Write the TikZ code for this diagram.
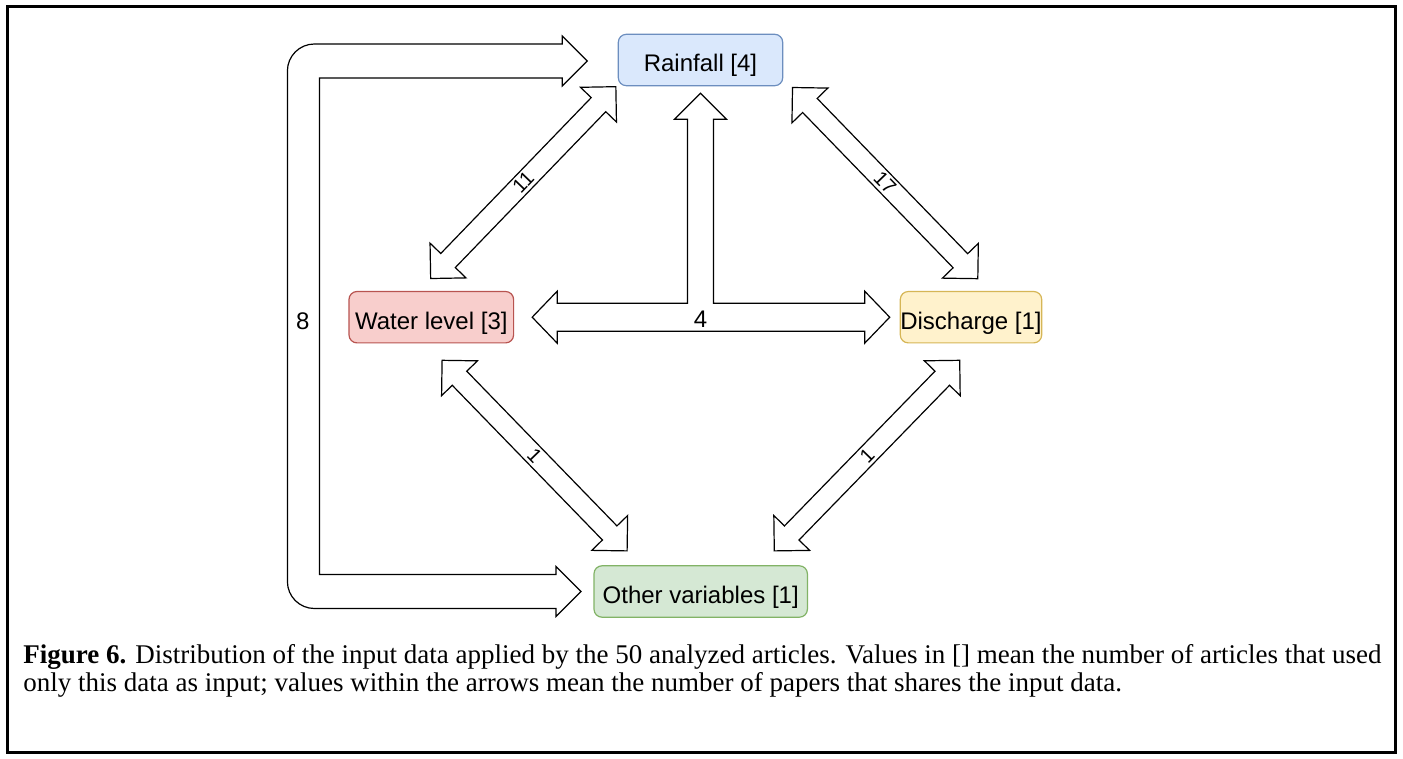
\documentclass[tikz,border=0pt]{standalone}
\usepackage{fontspec}
\setmainfont{Liberation Serif}
\setsansfont{Liberation Sans}
\usepackage{tikz}
\usetikzlibrary{calc,shapes.arrows}
\definecolor{rainfill}{HTML}{DAE8FC}
\definecolor{rainedge}{HTML}{6C8EBF}
\definecolor{waterfill}{HTML}{F8CECC}
\definecolor{wateredge}{HTML}{B85450}
\definecolor{dischfill}{HTML}{FFF2CC}
\definecolor{dischedge}{HTML}{D6B656}
\definecolor{otherfill}{HTML}{D5E8D4}
\definecolor{otheredge}{HTML}{82B366}

\begin{document}
\begin{tikzpicture}[
    x=0.5pt, y=-0.5pt,
    font=\sffamily,
    var/.style={
        rectangle,
        rounded corners=4pt,
        line width=0.6pt,
        minimum height=25.7pt,
        text height=12pt,
        text depth=0pt,
        inner sep=0pt,
        font=\sffamily\fontsize{12}{14}\selectfont
    },
    blockarr/.style={
        double arrow,
        double arrow head extend=5.5pt,
        minimum width=25pt,
        draw=black,
        fill=white,
        line width=0.6pt,
        inner sep=0pt,
        font=\sffamily\fontsize{10}{11}\selectfont
    },
    blockline/.style={
        draw=black,
        fill=white,
        line width=0.6pt,
        line join=miter
    },
    numlabel/.style={
        inner sep=0pt,
        font=\sffamily\fontsize{12}{14}\selectfont
    }
]

\path[use as bounding box, fill=white] (0,0) rectangle (1403,759);
\draw[line width=1.5pt] (7.5,6.5) rectangle (1395.5,752.5);

% variables
\node[var, draw=rainedge, fill=rainfill, minimum width=82.2pt] (rainfall) at (700.5,60) {Rainfall [4]};
\node[var, draw=wateredge, fill=waterfill, minimum width=82.3pt] (water) at (431.3,317.2) {Water level [3]};
\node[var, draw=dischedge, fill=dischfill, minimum width=68pt] (disch) at (971,317.2) {Discharge [1]};
\node[var, draw=otheredge, fill=otherfill, minimum width=106.7pt] (other) at (700.7,591.5) {Other variables [1]};

% diagonal arrows
\coordinate (a11a) at ($(rainfall.south west)+(-1.5,0)$);
\coordinate (a11b) at ($(water.north)+(-1,-12)$);
\path let \p1=(a11a), \p2=(a11b), \n1={atan2(\y1-\y2,\x1-\x2)}, \n2={veclen(\x1-\x2,\y1-\y2)} in
    node[blockarr, rotate=\n1, minimum height=\n2] (a11) at ($(a11a)!0.5!(a11b)$) {11};

\coordinate (a17a) at ($(disch.north)+(7,-12)$);
\coordinate (a17b) at ($(rainfall.south east)+(9,1)$);
\path let \p1=(a17a), \p2=(a17b), \n1={atan2(\y1-\y2,\x1-\x2)}, \n2={veclen(\x1-\x2,\y1-\y2)} in
    node[blockarr, rotate=\n1, minimum height=\n2] (a17) at ($(a17a)!0.5!(a17b)$) {17};

\coordinate (a1la) at ($(other.north west)+(34,-14)$);
\coordinate (a1lb) at ($(water.south)+(10.5,16.5)$);
\path let \p1=(a1la), \p2=(a1lb), \n1={atan2(\y1-\y2,\x1-\x2)}, \n2={veclen(\x1-\x2,\y1-\y2)} in
    node[blockarr, rotate=\n1, minimum height=\n2] (a1l) at ($(a1la)!0.5!(a1lb)$) {1};

\coordinate (a1ra) at ($(disch.south)+(-11,16.5)$);
\coordinate (a1rb) at ($(other.north east)+(-34,-14)$);
\path let \p1=(a1ra), \p2=(a1rb), \n1={atan2(\y1-\y2,\x1-\x2)}, \n2={veclen(\x1-\x2,\y1-\y2)} in
    node[blockarr, rotate=\n1, minimum height=\n2] (a1r) at ($(a1ra)!0.5!(a1rb)$) {1};

% T arrow: water level / discharge / rainfall
\coordinate (tl) at ($(water.east)+(18,0)$);
\coordinate (tr) at ($(disch.west)+(-10,0)$);
\coordinate (tt) at ($(rainfall.south)+(0,7)$);
\coordinate (sl) at ($(tt)+(-13,0)$);
\coordinate (sr) at ($(tt)+(13,0)$);
\coordinate (ht) at ($(tl)+(0,-14)$);
\draw[blockline] (tl) -- ++(25,-26) -- ++(0,12) -- (sl |- ht) -- ($(sl)+(0,26)$) -- ++(-13,0)
    -- (tt) -- ++(26,26) -- ++(-13,0) -- (sr |- ht) -- ($(tr)+(-25,-14)$) -- ++(0,-12)
    -- (tr) -- ++(-25,26) -- ++(0,-12) -- ($(tl)+(25,14)$) -- ++(0,12) -- cycle;
\node[numlabel] (n4) at ($(tt |- tl)+(0,2)$) {4};

% bent arrow: rainfall / other variables
\coordinate (t8) at ($(rainfall.west)+(-30.5,1)$);
\coordinate (b8) at ($(other.west)+(-12.5,0)$);
\coordinate (bend) at ($(water.west)+(-61,0)$);
\coordinate (bt) at (bend |- t8);
\coordinate (bb) at (bend |- b8);
\draw[blockline] (t8) -- ++(-25,25) -- ++(0,-8) -- ($(bt)+(32,17)$) -- ($(bb)+(32,-17)$)
    -- ($(b8)+(-25,-17)$) -- ++(0,-8) -- (b8) -- ++(-25,25) -- ++(0,-8)
    -- ($(bb)+(27,17)$) arc[start angle=90, end angle=180, radius=27]
    -- ($(bt)+(0,10)$) arc[start angle=180, end angle=270, radius=27]
    -- ($(t8)+(-25,-17)$) -- ++(0,-8) -- cycle;
\node[numlabel] (n8) at ($(bend)+(15.5,4)$) {8};

% caption
\node[anchor=north west, align=left, inner sep=0pt, font=\rmfamily\fontsize{13.5}{14}\selectfont] (caption) at (23,644)
{\textbf{Figure 6.} Distribution of the input data applied by the 50 analyzed articles. Values in [] mean the number of articles that used\\
only this data as input; values within the arrows mean the number of papers that shares the input data.};

\end{tikzpicture}
\end{document}
